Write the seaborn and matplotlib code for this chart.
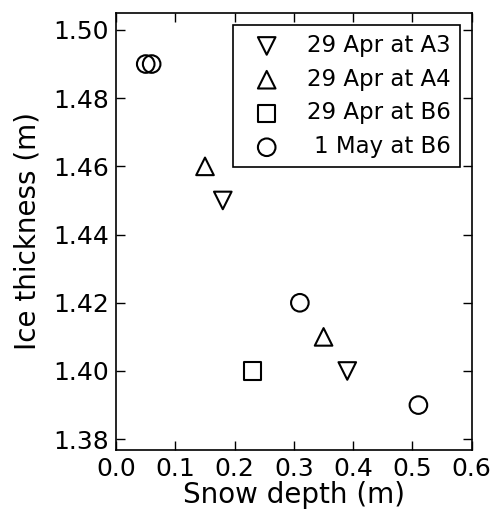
import matplotlib
matplotlib.use("Agg")
import matplotlib.pyplot as plt
import matplotlib.ticker as mticker
import seaborn as sns
import pandas as pd

groups = ["29 Apr at A3", "29 Apr at A4", "29 Apr at B6", "1 May at B6"]
markers = ["v", "^", "s", "o"]
snow_a3 = [0.18, 0.39]
ice_a3 = [1.45, 1.40]
snow_a4 = [0.15, 0.35]
ice_a4 = [1.46, 1.41]
snow_b6_apr = [0.23]
ice_b6_apr = [1.40]
snow_b6_may = [0.05, 0.06, 0.31, 0.51]
ice_b6_may = [1.49, 1.49, 1.42, 1.39]

snows = [snow_a3, snow_a4, snow_b6_apr, snow_b6_may]
ices = [ice_a3, ice_a4, ice_b6_apr, ice_b6_may]

sns.set_style("ticks")
plt.rcParams['font.family'] = ['DejaVu Sans']
plt.rcParams['text.color'] = 'black'
plt.rcParams['axes.labelcolor'] = 'black'

fig = plt.figure(figsize=(4.94, 5.15), dpi=100)
ax = fig.add_axes([0.235, 0.126, 0.72, 0.849])

for g, m, xs, ys in zip(groups, markers, snows, ices):
    df = pd.DataFrame({"Snow depth (m)": xs, "Ice thickness (m)": ys})
    sns.scatterplot(data=df, x="Snow depth (m)", y="Ice thickness (m)", ax=ax,
                    marker=m, s=160, facecolor="none", edgecolor="black",
                    linewidth=1.5, label=g)

ax.set_xlim(0.0, 0.6)
ax.set_ylim(1.3768, 1.505)
ax.set_xticks([0.0, 0.1, 0.2, 0.3, 0.4, 0.5, 0.6])
ax.set_yticks([1.38, 1.40, 1.42, 1.44, 1.46, 1.48, 1.50])
ax.xaxis.set_major_formatter(mticker.FormatStrFormatter('%.1f'))
ax.yaxis.set_major_formatter(mticker.FormatStrFormatter('%.2f'))
ax.tick_params(axis='both', direction='in', length=6.5, width=1, labelsize=18,
               top=True, right=True, colors='black', pad=5)
for sp in ax.spines.values():
    sp.set_linewidth(1.2)
    sp.set_color('black')
    sp.set_visible(True)
ax.set_xlabel("Snow depth (m)", fontsize=20, labelpad=0, color='black')
ax.set_ylabel("Ice thickness (m)", fontsize=20, labelpad=8.5, color='black')

leg = ax.legend(loc="upper right", fontsize=16.5, frameon=True, fancybox=False,
                edgecolor="black", framealpha=1, borderaxespad=0.52,
                handletextpad=0.7, labelspacing=0.47, borderpad=0.4,
                handlelength=2.1)
leg.get_frame().set_linewidth(1.2)
fig.canvas.draw()
r = fig.canvas.get_renderer()
widths = [t.get_window_extent(r).width for t in leg.get_texts()]
maxw = max(widths)
for t, w in zip(leg.get_texts(), widths):
    t.set_position((maxw - w, 0))

fig.savefig("out.png", dpi=100)
